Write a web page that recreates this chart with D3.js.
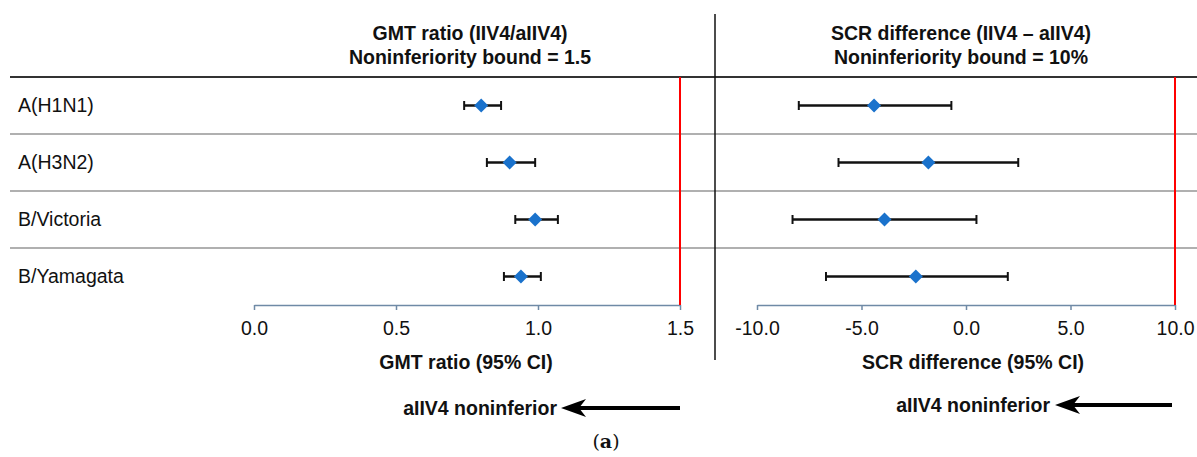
<!DOCTYPE html>
<html><head><meta charset="utf-8">
<script src="https://cdn.jsdelivr.net/npm/d3@7"></script>
<style>
html,body{margin:0;padding:0;background:#fff;}
svg{display:block;font-family:"Liberation Sans",Arial,sans-serif;}
</style></head>
<body><svg id="c" width="1197" height="457"></svg>
<script>
const categories = ["A(H1N1)", "A(H3N2)", "B/Victoria", "B/Yamagata"];
const gmtPoint = [0.80, 0.90, 0.99, 0.94];
const gmtLow   = [0.74, 0.82, 0.92, 0.88];
const gmtHigh  = [0.87, 0.99, 1.07, 1.01];
const scrPoint = [-4.4, -1.8, -3.9, -2.4];
const scrLow   = [-8.0, -6.1, -8.3, -6.7];
const scrHigh  = [-0.7, 2.5, 0.5, 2.0];
const gmtTicks = [0.0, 0.5, 1.0, 1.5];
const scrTicks = [-10.0, -5.0, 0.0, 5.0, 10.0];
const gmtBound = 1.5;
const scrBound = 10;

const svg = d3.select("#c");
const W = 1197;
const FS = 19.5;
const y = d3.scaleBand().domain(categories).range([77, 305]);
const xL = d3.scaleLinear().domain([0, 1.5]).range([254, 680]);
const xR = d3.scaleLinear().domain([-10, 10]).range([757, 1175]);

// row separators
categories.forEach((c, i) => {
  if (i === 0) return;
  svg.append("line").attr("x1", 10).attr("x2", W).attr("y1", y(c)).attr("y2", y(c))
    .attr("stroke", "#b0b0b0").attr("stroke-width", 2);
});
svg.append("line").attr("x1", 10).attr("x2", W).attr("y1", y(categories[0])).attr("y2", y(categories[0]))
  .attr("stroke", "#333").attr("stroke-width", 2);

// divider
svg.append("line").attr("x1", 715).attr("x2", 715).attr("y1", 14).attr("y2", 360)
  .attr("stroke", "#111").attr("stroke-width", 1.5);

// row labels
svg.selectAll("text.cat").data(categories).join("text").attr("class", "cat")
  .attr("x", 18).attr("y", d => y(d) + y.bandwidth() / 2).attr("dy", "0.35em")
  .attr("font-size", 19.5).attr("fill", "#111").text(d => d);

// titles
function title(x, lines) {
  lines.forEach((t, i) => svg.append("text").attr("x", x).attr("y", 40 + i * 24)
    .attr("text-anchor", "middle").attr("font-size", FS).attr("font-weight", "bold")
    .attr("fill", "#111").text(t));
}
title(470, ["GMT ratio (IIV4/aIIV4)", "Noninferiority bound = 1.5"]);
title(961, ["SCR difference (IIV4 \u2013 aIIV4)", "Noninferiority bound = 10%"]);

// axes
const fmt = d => d3.format(".1f")(d).replace("\u2212", "-");
function axis(x, ticks) {
  const g = svg.append("g").attr("transform", "translate(0,305)")
    .call(d3.axisBottom(x).tickValues(ticks).tickFormat(fmt).tickSize(5).tickPadding(11).tickSizeOuter(0));
  g.select(".domain").attr("stroke", "#6f8aa6").attr("stroke-width", 1.5);
  g.selectAll(".tick line").attr("stroke", "#6f8aa6").attr("stroke-width", 1.5);
  g.selectAll(".tick text").attr("font-size", FS).attr("fill", "#111")
    .attr("font-family", "Liberation Sans, Arial, sans-serif");
}
axis(xL, gmtTicks);
axis(xR, scrTicks);

// bounds
svg.append("line").attr("x1", xL(gmtBound)).attr("x2", xL(gmtBound)).attr("y1", 77).attr("y2", 305)
  .attr("stroke", "#ff0000").attr("stroke-width", 2);
svg.append("line").attr("x1", xR(scrBound)).attr("x2", xR(scrBound)).attr("y1", 77).attr("y2", 305)
  .attr("stroke", "#ff0000").attr("stroke-width", 2);

// error bars
function forest(x, pt, lo, hi) {
  const g = svg.append("g");
  categories.forEach((c, i) => {
    const cy = y(c) + y.bandwidth() / 2;
    g.append("line").attr("x1", x(lo[i])).attr("x2", x(hi[i])).attr("y1", cy).attr("y2", cy)
      .attr("stroke", "#111").attr("stroke-width", 2.5);
    [lo[i], hi[i]].forEach(v => g.append("line").attr("x1", x(v)).attr("x2", x(v))
      .attr("y1", cy - 4.5).attr("y2", cy + 4.5).attr("stroke", "#111").attr("stroke-width", 2));
    const px = x(pt[i]);
    g.append("path").attr("d", `M${px},${cy - 7}L${px + 7},${cy}L${px},${cy + 7}L${px - 7},${cy}Z`)
      .attr("fill", "#1a72cc");
  });
}
forest(xL, gmtPoint, gmtLow, gmtHigh);
forest(xR, scrPoint, scrLow, scrHigh);

// axis titles
svg.append("text").attr("x", 466).attr("y", 369).attr("text-anchor", "middle")
  .attr("font-size", FS).attr("font-weight", "bold").attr("fill", "#111").text("GMT ratio (95% CI)");
svg.append("text").attr("x", 973).attr("y", 369).attr("text-anchor", "middle")
  .attr("font-size", FS).attr("font-weight", "bold").attr("fill", "#111").text("SCR difference (95% CI)");

// arrows
function arrow(x0, tip, textEnd, cy) {
  svg.append("line").attr("x1", x0).attr("x2", tip + 10).attr("y1", cy).attr("y2", cy)
    .attr("stroke", "#000").attr("stroke-width", 4);
  svg.append("path").attr("d", `M${tip},${cy}L${tip + 25},${cy - 9}L${tip + 18},${cy}L${tip + 25},${cy + 9}Z`)
    .attr("fill", "#000");
  svg.append("text").attr("x", textEnd).attr("y", cy).attr("dy", "0.35em").attr("text-anchor", "end")
    .attr("font-size", FS).attr("font-weight", "bold").attr("fill", "#111").text("aIIV4 noninferior");
}
arrow(xL(gmtBound), 561, 557, 408);
arrow(xR(scrBound) - 3, 1055, 1050, 405);

// panel label
const lab = svg.append("text").attr("x", 606).attr("y", 448).attr("text-anchor", "middle")
  .attr("font-family", "DejaVu Serif, Liberation Serif, serif").attr("font-size", 19).attr("fill", "#111");
lab.append("tspan").text("(");
lab.append("tspan").attr("font-weight", "bold").text("a");
lab.append("tspan").text(")");
</script></body></html>
